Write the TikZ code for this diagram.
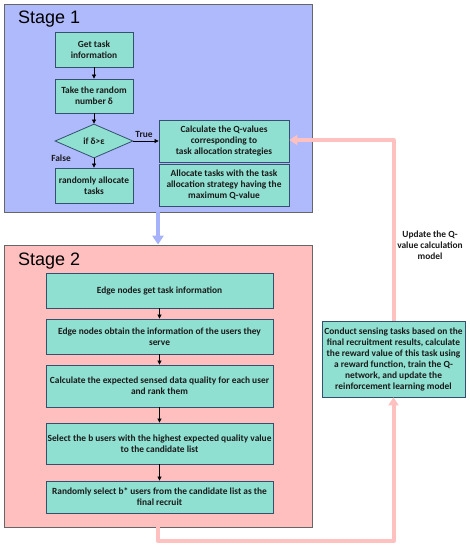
\documentclass[tikz,border=0pt]{standalone}
\usepackage{fontspec}
\setmainfont{Carlito}
\newfontfamily\stagefont{Liberation Sans}
\usetikzlibrary{shapes.geometric,arrows.meta}
\definecolor{sonefill}{HTML}{AFBAFD}
\definecolor{stwofill}{HTML}{FFBFBF}
\definecolor{boxfill}{HTML}{8FE0D1}
\definecolor{boxline}{HTML}{34506E}
\definecolor{framegray}{HTML}{666666}
\definecolor{pinkline}{HTML}{FFC0C0}
\definecolor{blueline}{HTML}{A6B3FA}
\definecolor{inkcol}{HTML}{1A1A1A}
\tikzset{
  txt/.style={font=\bfseries\fontsize{9.4}{11}\selectfont, align=center, text=inkcol},
  stepbox/.style={txt, draw=boxline, fill=boxfill, line width=0.8pt, inner sep=1pt},
  stagebox/.style={draw=framegray, line width=0.8pt, inner sep=0pt},
  decbox/.style={txt, shape=diamond, draw=boxline, fill=boxfill, line width=0.8pt, inner sep=0pt, aspect=2.3},
  flow/.style={draw=black, line width=0.7pt, -{Triangle[width=4pt,length=4pt]}},
  pinkflow/.style={draw=pinkline, line width=4pt, -{Triangle[width=10pt,length=8pt]}},
  blueflow/.style={draw=blueline, line width=4.5pt, -{Triangle[width=11pt,length=9pt]}},
  stagelabel/.style={font=\stagefont\fontsize{18}{20}\selectfont, anchor=base west, inner sep=0pt},
}
\begin{document}
\begin{tikzpicture}[x=1pt,y=-1pt]
\useasboundingbox (0,0) rectangle (470,550);
% stage frames
\node[stagebox, fill=sonefill, minimum width=308pt, minimum height=208pt] (s1) at (158,108) {};
\node[stagebox, fill=stwofill, minimum width=308pt, minimum height=282pt] (s2) at (158,386) {};
\node[stagelabel] (l1) at (18,23) {Stage 1};
\node[stagelabel] (l2) at (18,265) {Stage 2};
% stage 1
\node[stepbox, minimum width=78pt, minimum height=35pt] (a1) at (94,49.5) {Get task\\information};
\node[stepbox, minimum width=78pt, minimum height=34pt] (a2) at (94,96) {Take the random\\number δ};
\node[decbox, minimum width=78pt, minimum height=34pt] (d) at (94,141) {if δ>ε};
\node[stepbox, minimum width=78pt, minimum height=35pt] (a3) at (94,185.5) {randomly allocate\\tasks};
\node[stepbox, minimum width=130pt, minimum height=42pt] (q1) at (224,141) {Calculate the Q-values\\corresponding to\\task allocation strategies};
\node[stepbox, minimum width=130pt, minimum height=42pt] (q2) at (224,185) {Allocate tasks with the task\\allocation strategy having the\\maximum Q-value};
\draw[flow] (a1) -- (a2);
\draw[flow] (a2) -- (d);
\draw[flow] (d) -- (a3);
\draw[flow] (d) -- (q1);
\node[txt] (tl) at (144,134) {True};
\node[txt] (fl) at (61,158) {False};
% stage 2
\node[stepbox, minimum width=227pt, minimum height=35pt] (e1) at (159.5,290.5) {Edge nodes get task information};
\node[stepbox, minimum width=227pt, minimum height=35pt] (e2) at (159.5,336.5) {Edge nodes obtain the information of the users they\\serve};
\node[stepbox, minimum width=227pt, minimum height=42pt] (e3) at (159.5,386) {Calculate the expected sensed data quality for each user\\and rank them};
\node[stepbox, minimum width=227pt, minimum height=41pt] (e4) at (159.5,443.5) {Select the b users with the highest expected quality value\\to the candidate list};
\node[stepbox, minimum width=227pt, minimum height=32pt] (e5) at (159.5,497) {Randomly select b* users from the candidate list as the\\final recruit};
\draw[flow] (e1) -- (e2);
\draw[flow] (e2) -- (e3);
\draw[flow] (e3) -- (e4);
\draw[flow] (e4) -- (e5);
% right side
\node[stepbox, minimum width=143pt, minimum height=76pt] (c) at (393.5,359) {Conduct sensing tasks based on the\\final recruitment results, calculate\\the reward value of this task using\\a reward function, train the Q-\\network, and update the\\reinforcement learning model};
\node[txt] (ul) at (430,245) {Update the Q-\\value calculation\\model};
\coordinate (p1) at (158,541);
\coordinate (p2) at (393.5,541);
\coordinate (p3) at (393.5,140);
\draw[blueflow] (s1.south) -- (s2.north);
\draw[pinkflow, line join=round] (s2.south) -- (p1) -- (p2) -- (c.south);
\draw[pinkflow, line join=round] (c.north) -- (p3) -- (q1.east |- p3);
\end{tikzpicture}
\end{document}
